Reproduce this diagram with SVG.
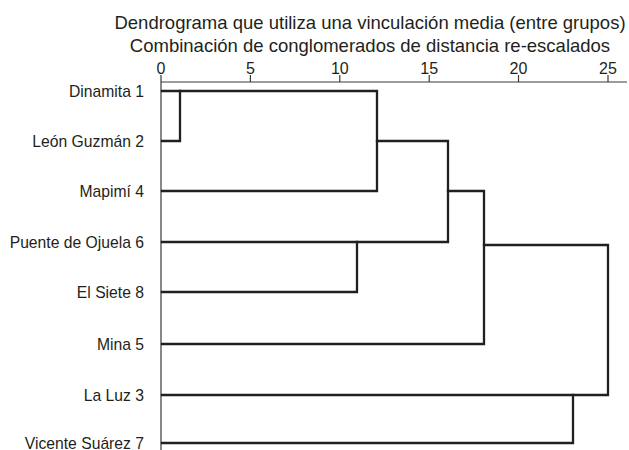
<svg xmlns="http://www.w3.org/2000/svg" width="629" height="450" viewBox="0 0 629 450">
<style>
.title{font-family:"Liberation Sans",Arial,sans-serif;font-size:18.5px;fill:#231f20;text-anchor:middle}
.num{font-family:"Liberation Sans",Arial,sans-serif;font-size:16px;fill:#231f20;text-anchor:middle}
.lbl{font-family:"Liberation Sans",Arial,sans-serif;font-size:15.7px;fill:#231f20;text-anchor:end}
.axis{stroke:#3a3a3a;stroke-width:1.2;fill:none}
.link{stroke:#231f20;stroke-width:2.3;fill:none;stroke-linecap:square;stroke-linejoin:miter}
</style>
<rect width="629" height="450" fill="#ffffff"/>
<g id="title">
<text class="title" x="370" y="29">Dendrograma que utiliza una vinculación media (entre grupos)</text>
<text class="title" x="370" y="52">Combinación de conglomerados de distancia re-escalados</text>
</g>
<g id="axis">
<path class="axis" d="M161 75 V450 M161 82 H627 M250.4 75 V82 M339.8 75 V82 M429.2 75 V82 M518.5 75 V82 M608 75 V82"/>
<text class="num" x="161" y="74">0</text>
<text class="num" x="250.4" y="74">5</text>
<text class="num" x="339.8" y="74">10</text>
<text class="num" x="429.2" y="74">15</text>
<text class="num" x="518.5" y="74">20</text>
<text class="num" x="608" y="74">25</text>
</g>
<g id="node-dinamita1"><text class="lbl" x="144" y="96.5">Dinamita 1</text></g>
<g id="node-leonguzman2"><text class="lbl" x="144" y="146.5">León Guzmán 2</text></g>
<g id="node-mapimi4"><text class="lbl" x="144" y="196.5">Mapimí 4</text></g>
<g id="node-puente6"><text class="lbl" x="144" y="247.5">Puente de Ojuela 6</text></g>
<g id="node-elsiete8"><text class="lbl" x="144" y="297.5">El Siete 8</text></g>
<g id="node-mina5"><text class="lbl" x="144" y="349.5">Mina 5</text></g>
<g id="node-laluz3"><text class="lbl" x="144" y="400.5">La Luz 3</text></g>
<g id="node-vicente7"><text class="lbl" x="144" y="448.5">Vicente Suárez 7</text></g>
<g id="connectors">
<path class="link" d="M162 91 H377 V191 H162"/>
<path class="link" d="M162 141 H180 V91"/>
<path class="link" d="M377 141 H448 V242 H162"/>
<path class="link" d="M162 292 H357 V242"/>
<path class="link" d="M448 191 H484 V344 H162"/>
<path class="link" d="M484 245 H608 V395 H162"/>
<path class="link" d="M162 443 H573 V395"/>
</g>
</svg>
